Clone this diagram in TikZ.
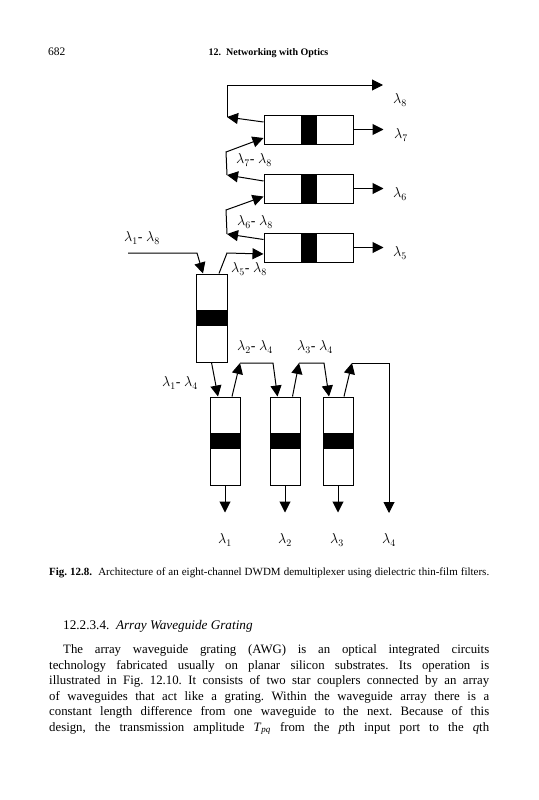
\documentclass[tikz,border=0pt]{standalone}
\usepackage{fontspec}
\setmainfont{Liberation Serif}
\usetikzlibrary{arrows.meta,positioning}
\frenchspacing

\tikzset{
    % Thin-film filter cells with the black coating
    hfilter/.style={
        rectangle,
        draw,
        line width=1pt,
        minimum width=89pt,
        minimum height=29pt,
        inner sep=0pt,
        path picture={\fill ([xshift=-8pt]path picture bounding box.north) rectangle ([xshift=8pt]path picture bounding box.south);}
    },
    vfilter/.style={
        rectangle,
        draw,
        line width=1pt,
        minimum width=30pt,
        minimum height=88pt,
        inner sep=0pt,
        path picture={\fill ([yshift=8pt]path picture bounding box.west) rectangle ([yshift=-8pt]path picture bounding box.east);}
    },
    arrow/.style={
        -{Triangle[length=11pt,width=11pt]},
        line width=1pt
    },
    lambda/.style={
        inner sep=0pt,
        font=\fontsize{14}{16}\selectfont
    },
    bodyline/.style={
        anchor=base west,
        inner sep=0pt,
        font=\fontsize{12.8}{15.5}\selectfont
    }
}

\begin{document}
\begin{tikzpicture}[x=1pt, y=-1pt]
        \useasboundingbox (0,0) rectangle (538,800);

        % Running head
        \node[anchor=base west, inner sep=0pt, font=\fontsize{11.5}{13}\selectfont] (pageno) at (48,56) {682};
        \node[anchor=base, inner sep=0pt, font=\bfseries\fontsize{10}{12}\selectfont] (runhead) at (268.5,56) {12.\ \ Networking with Optics};

        % Filters lambda 5 - lambda 8
        \node[hfilter] (f7) at (308.5,129.5) {};
        \node[hfilter, below=29pt of f7] (f6) {};
        \node[hfilter, below=29pt of f6] (f5) {};

        % First split filter
        \node[vfilter, minimum width=31pt] (v) at (211.5,318) {};

        % Filters lambda 1 - lambda 3
        \node[vfilter] (s1) at (225,441) {};
        \node[vfilter, right=29pt of s1] (s2) {};
        \node[vfilter, right=22pt of s2] (s3) {};

        % Helper points
        \coordinate (c7) at (227,117);
        \coordinate (c6) at (227,175);
        \coordinate (c5) at (227,234);
        \coordinate (d7) at (226,152);
        \coordinate (d6) at (226,210);
        \coordinate (e5) at (227,253);
        \coordinate (t8) at (383,85);
        \coordinate (in) at (128,253);
        \coordinate (in2) at (197,253);
        \coordinate (g1) at (240,363);
        \coordinate (h1) at (273,363);
        \coordinate (g2) at (299,363);
        \coordinate (h2) at (324,363);
        \coordinate (g3) at (352,363);
        \coordinate (h3) at (389,363);
        \coordinate (o4) at (389,513);
        \coordinate (o7) at ([xshift=30pt]f7.east);
        \coordinate (o6) at ([xshift=30pt]f6.east);
        \coordinate (o5) at ([xshift=30pt]f5.east);
        \coordinate (o1) at ([yshift=-27pt]s1.south);
        \coordinate (o2) at ([yshift=-27pt]s2.south);
        \coordinate (o3) at ([yshift=-27pt]s3.south);

        % Labels
        \node[lambda] (l8) at (400,100) {$\lambda_8$};
        \node[lambda] (l7) at (401,135) {$\lambda_7$};
        \node[lambda] (l6) at (400,194) {$\lambda_6$};
        \node[lambda] (l5) at (400,253) {$\lambda_5$};
        \node[lambda] (l78) at (254,160) {$\lambda_7$- $\lambda_8$};
        \node[lambda] (l68) at (255,222) {$\lambda_6$- $\lambda_8$};
        \node[lambda] (l58) at (249,269) {$\lambda_5$- $\lambda_8$};
        \node[lambda] (l18) at (142,238) {$\lambda_1$- $\lambda_8$};
        \node[lambda] (l14) at (180,383) {$\lambda_1$- $\lambda_4$};
        \node[lambda] (l24) at (255,347) {$\lambda_2$- $\lambda_4$};
        \node[lambda] (l34) at (315,347) {$\lambda_3$- $\lambda_4$};
        \node[lambda] (l1) at (225,540) {$\lambda_1$};
        \node[lambda] (l2) at (285,540) {$\lambda_2$};
        \node[lambda] (l3) at (337,540) {$\lambda_3$};
        \node[lambda] (l4) at (389,540) {$\lambda_4$};

        % Arrows, upper chain
        \draw[arrow] (in) -- (in2) -- ([xshift=-8.5pt]v.north);
        \draw[arrow] ([xshift=7.5pt]v.north) -- (e5) -- ([yshift=-6.5pt]f5.west);
        \draw[arrow] ([yshift=8pt]f5.west) -- (c5);
        \draw[arrow] (c5) -- (d6) -- ([yshift=-8pt]f6.west);
        \draw[arrow] ([yshift=7.5pt]f6.west) -- (c6);
        \draw[arrow] (c6) -- (d7) -- ([yshift=-8.5pt]f7.west);
        \draw[arrow] ([yshift=7.5pt]f7.west) -- (c7);
        \draw[arrow] (c7) |- (t8);
        \draw[arrow] (f7.east) -- (o7);
        \draw[arrow] (f6.east) -- (o6);
        \draw[arrow] (f5.east) -- (o5);

        % Arrows, lower chain
        \draw[arrow] (v.south) -- ([xshift=-7pt]s1.north);
        \draw[arrow] ([xshift=7pt]s1.north) -- (g1);
        \draw[arrow] (g1) -- (h1) -- ([xshift=-7.5pt]s2.north);
        \draw[arrow] ([xshift=7.5pt]s2.north) -- (g2);
        \draw[arrow] (g2) -- (h2) -- ([xshift=-9pt]s3.north);
        \draw[arrow] ([xshift=6pt]s3.north) -- (g3);
        \draw[arrow] (g3) -- (h3) -- (o4);
        \draw[arrow] (s1.south) -- (o1);
        \draw[arrow] (s2.south) -- (o2);
        \draw[arrow] (s3.south) -- (o3);

        % Caption
        \node[anchor=base west, inner sep=0pt, font=\fontsize{11}{13}\selectfont] (caption) at (49,575)
              {\makebox[440pt][s]{\textbf{Fig. 12.8.}\ \ Architecture of an eight-channel DWDM demultiplexer using dielectric thin-film filters.}};

        % Section text
        \node[bodyline, font=\fontsize{13.2}{15.5}\selectfont] (sec) at (63,629) {12.2.3.4.\ \ \textit{Array Waveguide Grating}};
        \node[bodyline] (p1) at (63,653.5) {\makebox[426pt][s]{The array waveguide grating (AWG) is an optical integrated circuits}};
        \node[bodyline] (p2) at (49,669) {\makebox[440pt][s]{technology fabricated usually on planar silicon substrates. Its operation is}};
        \node[bodyline] (p3) at (49,684.5) {\makebox[440pt][s]{illustrated in Fig. 12.10. It consists of two star couplers connected by an array}};
        \node[bodyline] (p4) at (49,700) {\makebox[440pt][s]{of waveguides that act like a grating. Within the waveguide array there is a}};
        \node[bodyline] (p5) at (49,715.5) {\makebox[440pt][s]{constant length difference from one waveguide to the next. Because of this}};
        \node[bodyline] (p6) at (49,731) {\makebox[440pt][s]{design, the transmission amplitude \textit{T}\textsubscript{\textit{pq}} from the \textit{p}th input port to the \textit{q}th}};
    \end{tikzpicture}
\end{document}
